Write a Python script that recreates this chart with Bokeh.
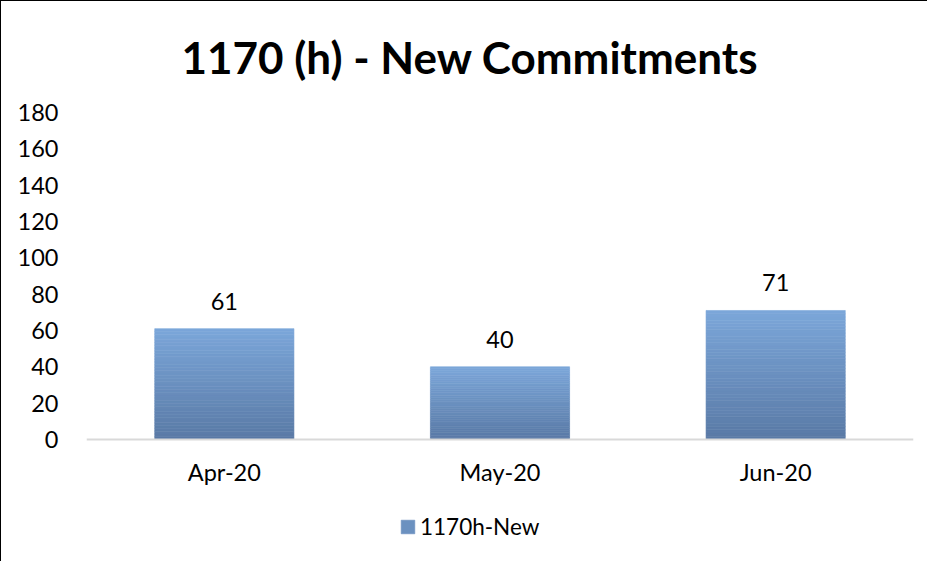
from bokeh.plotting import figure
from bokeh.models import ColumnDataSource, Title, Legend, LegendItem, Range1d, FixedTicker, Span
from bokeh.core.properties import value
from bokeh.embed import file_html
from bokeh.resources import INLINE

title_text = "1170 (h) - New Commitments"
categories = ["Apr-20", "May-20", "Jun-20"]
values = [61, 40, 71]
series_name = "1170h-New"
y_ticks = [0, 20, 40, 60, 80, 100, 120, 140, 160, 180]

FONT = "Lato"
FS = "23.5px"
TOP_RGB = (0x7C, 0xA7, 0xDA)
BOT_RGB = (0x5A, 0x7A, 0xA6)

p = figure(x_range=categories, width=927, height=561, output_backend="svg",
           toolbar_location=None, min_border_left=85, min_border_right=15,
           min_border_top=111, min_border_bottom=5)
p.styles = {"border-top": "1px solid #000000", "border-left": "1px solid #000000"}
p.y_range = Range1d(-65, 180)
p.outline_line_color = None
p.xgrid.grid_line_color = None
p.ygrid.grid_line_color = None
p.xaxis.visible = False

# category axis line at zero
p.add_layout(Span(location=0, dimension="width", line_color="#D9D9D9", line_width=2))

# gradient bars as stacked strips
N = 40
xs, bots, tops, cols = [], [], [], []
for c, v in zip(categories, values):
    for i in range(N):
        t = (i + 0.5) / N
        r = int(BOT_RGB[0] + (TOP_RGB[0] - BOT_RGB[0]) * t)
        g = int(BOT_RGB[1] + (TOP_RGB[1] - BOT_RGB[1]) * t)
        b = int(BOT_RGB[2] + (TOP_RGB[2] - BOT_RGB[2]) * t)
        xs.append(c)
        bots.append(v * i / N)
        tops.append(v * (i + 1) / N)
        cols.append("#%02x%02x%02x" % (r, g, b))
src = ColumnDataSource(dict(x=xs, bottom=bots, top=tops, color=cols))
bars = p.vbar(x="x", bottom="bottom", top="top", width=0.505, source=src,
              fill_color="color", line_color="color", line_width=0.6)

# data labels
lab = ColumnDataSource(dict(x=categories, y=values, t=[str(v) for v in values]))
p.text(x="x", y="y", text="t", source=lab, text_align="center",
       text_baseline="bottom", y_offset=-19, text_font=value(FONT),
       text_font_size=FS, text_color="#000000")

# category labels under the zero line
cat = ColumnDataSource(dict(x=categories, y=[0] * len(categories), t=categories))
p.text(x="x", y="y", text="t", source=cat, text_align="center",
       text_baseline="top", y_offset=19, text_font=value(FONT),
       text_font_size=FS, text_color="#000000")

legend = Legend(items=[LegendItem(label=series_name, renderers=[bars], index=N // 2)],
                orientation="horizontal", location=(313, 17),
                label_text_font=FONT, label_text_font_size="22.5px",
                label_text_color="#000000",
                glyph_width=17, glyph_height=17, border_line_color=None,
                background_fill_alpha=0, margin=0, padding=0, label_standoff=4)
p.add_layout(legend, "center")

# value axis
p.yaxis.ticker = FixedTicker(ticks=y_ticks)
p.yaxis.axis_line_color = None
p.yaxis.major_tick_line_color = None
p.yaxis.minor_tick_line_color = None
p.yaxis.major_label_standoff = 22
p.yaxis.major_label_text_font = FONT
p.yaxis.major_label_text_font_size = FS
p.yaxis.major_label_text_color = "#000000"

p.add_layout(Title(text=title_text, align="left", offset=95, vertical_align="top",
                   text_font=FONT, text_font_size="44px", text_font_style="bold",
                   text_color="#000000", standoff=55), "above")

open("out.html", "w").write(file_html(p, INLINE))
